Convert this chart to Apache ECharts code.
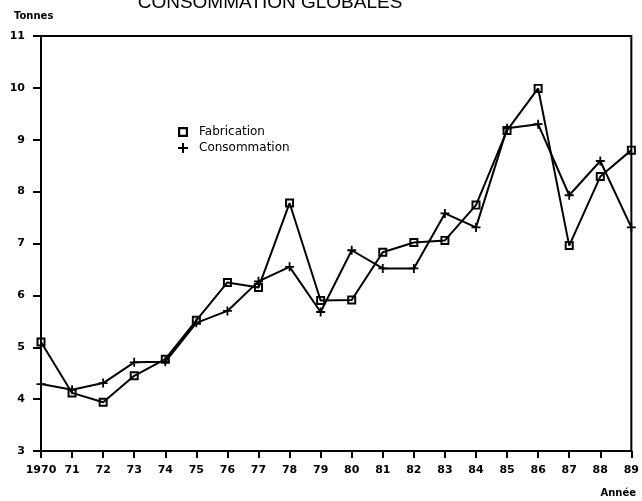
<!DOCTYPE html>
<html><head><meta charset="utf-8">
<script src="https://cdn.jsdelivr.net/npm/echarts@6/dist/echarts.min.js"></script>
<style>html,body{margin:0;padding:0;background:#fff}#c{width:642px;height:501px}</style>
</head><body><div id="c"></div>
<script>
var years = ['1970','71','72','73','74','75','76','77','78','79','80','81','82','83','84','85','86','87','88','89'];
var fabrication = [5.1,4.12,3.94,4.45,4.77,5.52,6.25,6.15,7.78,5.9,5.91,6.83,7.02,7.06,7.74,9.18,9.99,6.96,8.29,8.8];
var consommation = [4.29,4.18,4.31,4.71,4.72,5.47,5.7,6.27,6.55,5.68,6.87,6.52,6.52,7.58,7.31,9.22,9.3,7.93,8.59,7.31];
var yTicks = [3,11,1];
var plusPath = 'path://M4,0 L6,0 L6,4 L10,4 L10,6 L6,6 L6,10 L4,10 L4,6 L0,6 L0,4 L4,4 Z';
var squarePath = 'path://M0,0 L10,0 L10,10 L0,10 Z M2.2,2.2 L2.2,7.8 L7.8,7.8 L7.8,2.2 Z';
var font = 'DejaVu Sans';
var chart = echarts.init(document.getElementById('c'), null, {renderer:'canvas'});
chart.setOption({
  animation:false,
  backgroundColor:'#fff',
  title:{text:'CONSOMMATION GLOBALES',left:265,textAlign:'center',top:-12,
    textStyle:{fontFamily:'Liberation Sans',fontSize:19,fontWeight:'normal',color:'#000'}},
  graphic:[
    {type:'text',left:14,top:11,style:{text:'Tonnes',fontFamily:font,fontSize:10,fontWeight:'bold',fill:'#000'}},
    {type:'text',right:6,top:488,style:{text:'Année',fontFamily:font,fontSize:10,fontWeight:'bold',fill:'#000'}}
  ],
  legend:{orient:'vertical',left:173,top:121,itemGap:4,itemWidth:10,itemHeight:10,
    textStyle:{fontFamily:font,fontSize:12,color:'#000',padding:[0,0,0,6]},
    data:[
      {name:'Fabrication',icon:squarePath,itemStyle:{color:'#000',borderWidth:0}},
      {name:'Consommation',icon:plusPath,itemStyle:{color:'#000',borderWidth:0}}
    ]},
  grid:{left:41,right:6,top:36,bottom:50,show:true,borderColor:'#000',borderWidth:2,backgroundColor:'transparent'},
  xAxis:{type:'category',data:years,boundaryGap:false,
    axisLine:{lineStyle:{color:'#000',width:2}},
    axisTick:{show:true,length:7,lineStyle:{color:'#000',width:2},alignWithLabel:true},
    axisLabel:{fontFamily:font,fontSize:11,fontWeight:'bold',color:'#000',margin:14,interval:0},
    splitLine:{show:false}},
  yAxis:{type:'value',min:yTicks[0],max:yTicks[1],interval:yTicks[2],
    axisLine:{show:true,lineStyle:{color:'#000',width:2}},
    axisTick:{show:true,length:8,lineStyle:{color:'#000',width:2}},
    axisLabel:{fontFamily:font,fontSize:11,fontWeight:'bold',color:'#000',margin:16},
    splitLine:{show:false}},
  series:[
    {name:'Fabrication',type:'line',data:fabrication,symbol:squarePath,symbolSize:9,
      lineStyle:{color:'#000',width:2},itemStyle:{color:'#000',borderWidth:0}},
    {name:'Consommation',type:'line',data:consommation,symbol:plusPath,symbolSize:9,
      lineStyle:{color:'#000',width:2},itemStyle:{color:'#000'}}
  ]
});
</script></body></html>
